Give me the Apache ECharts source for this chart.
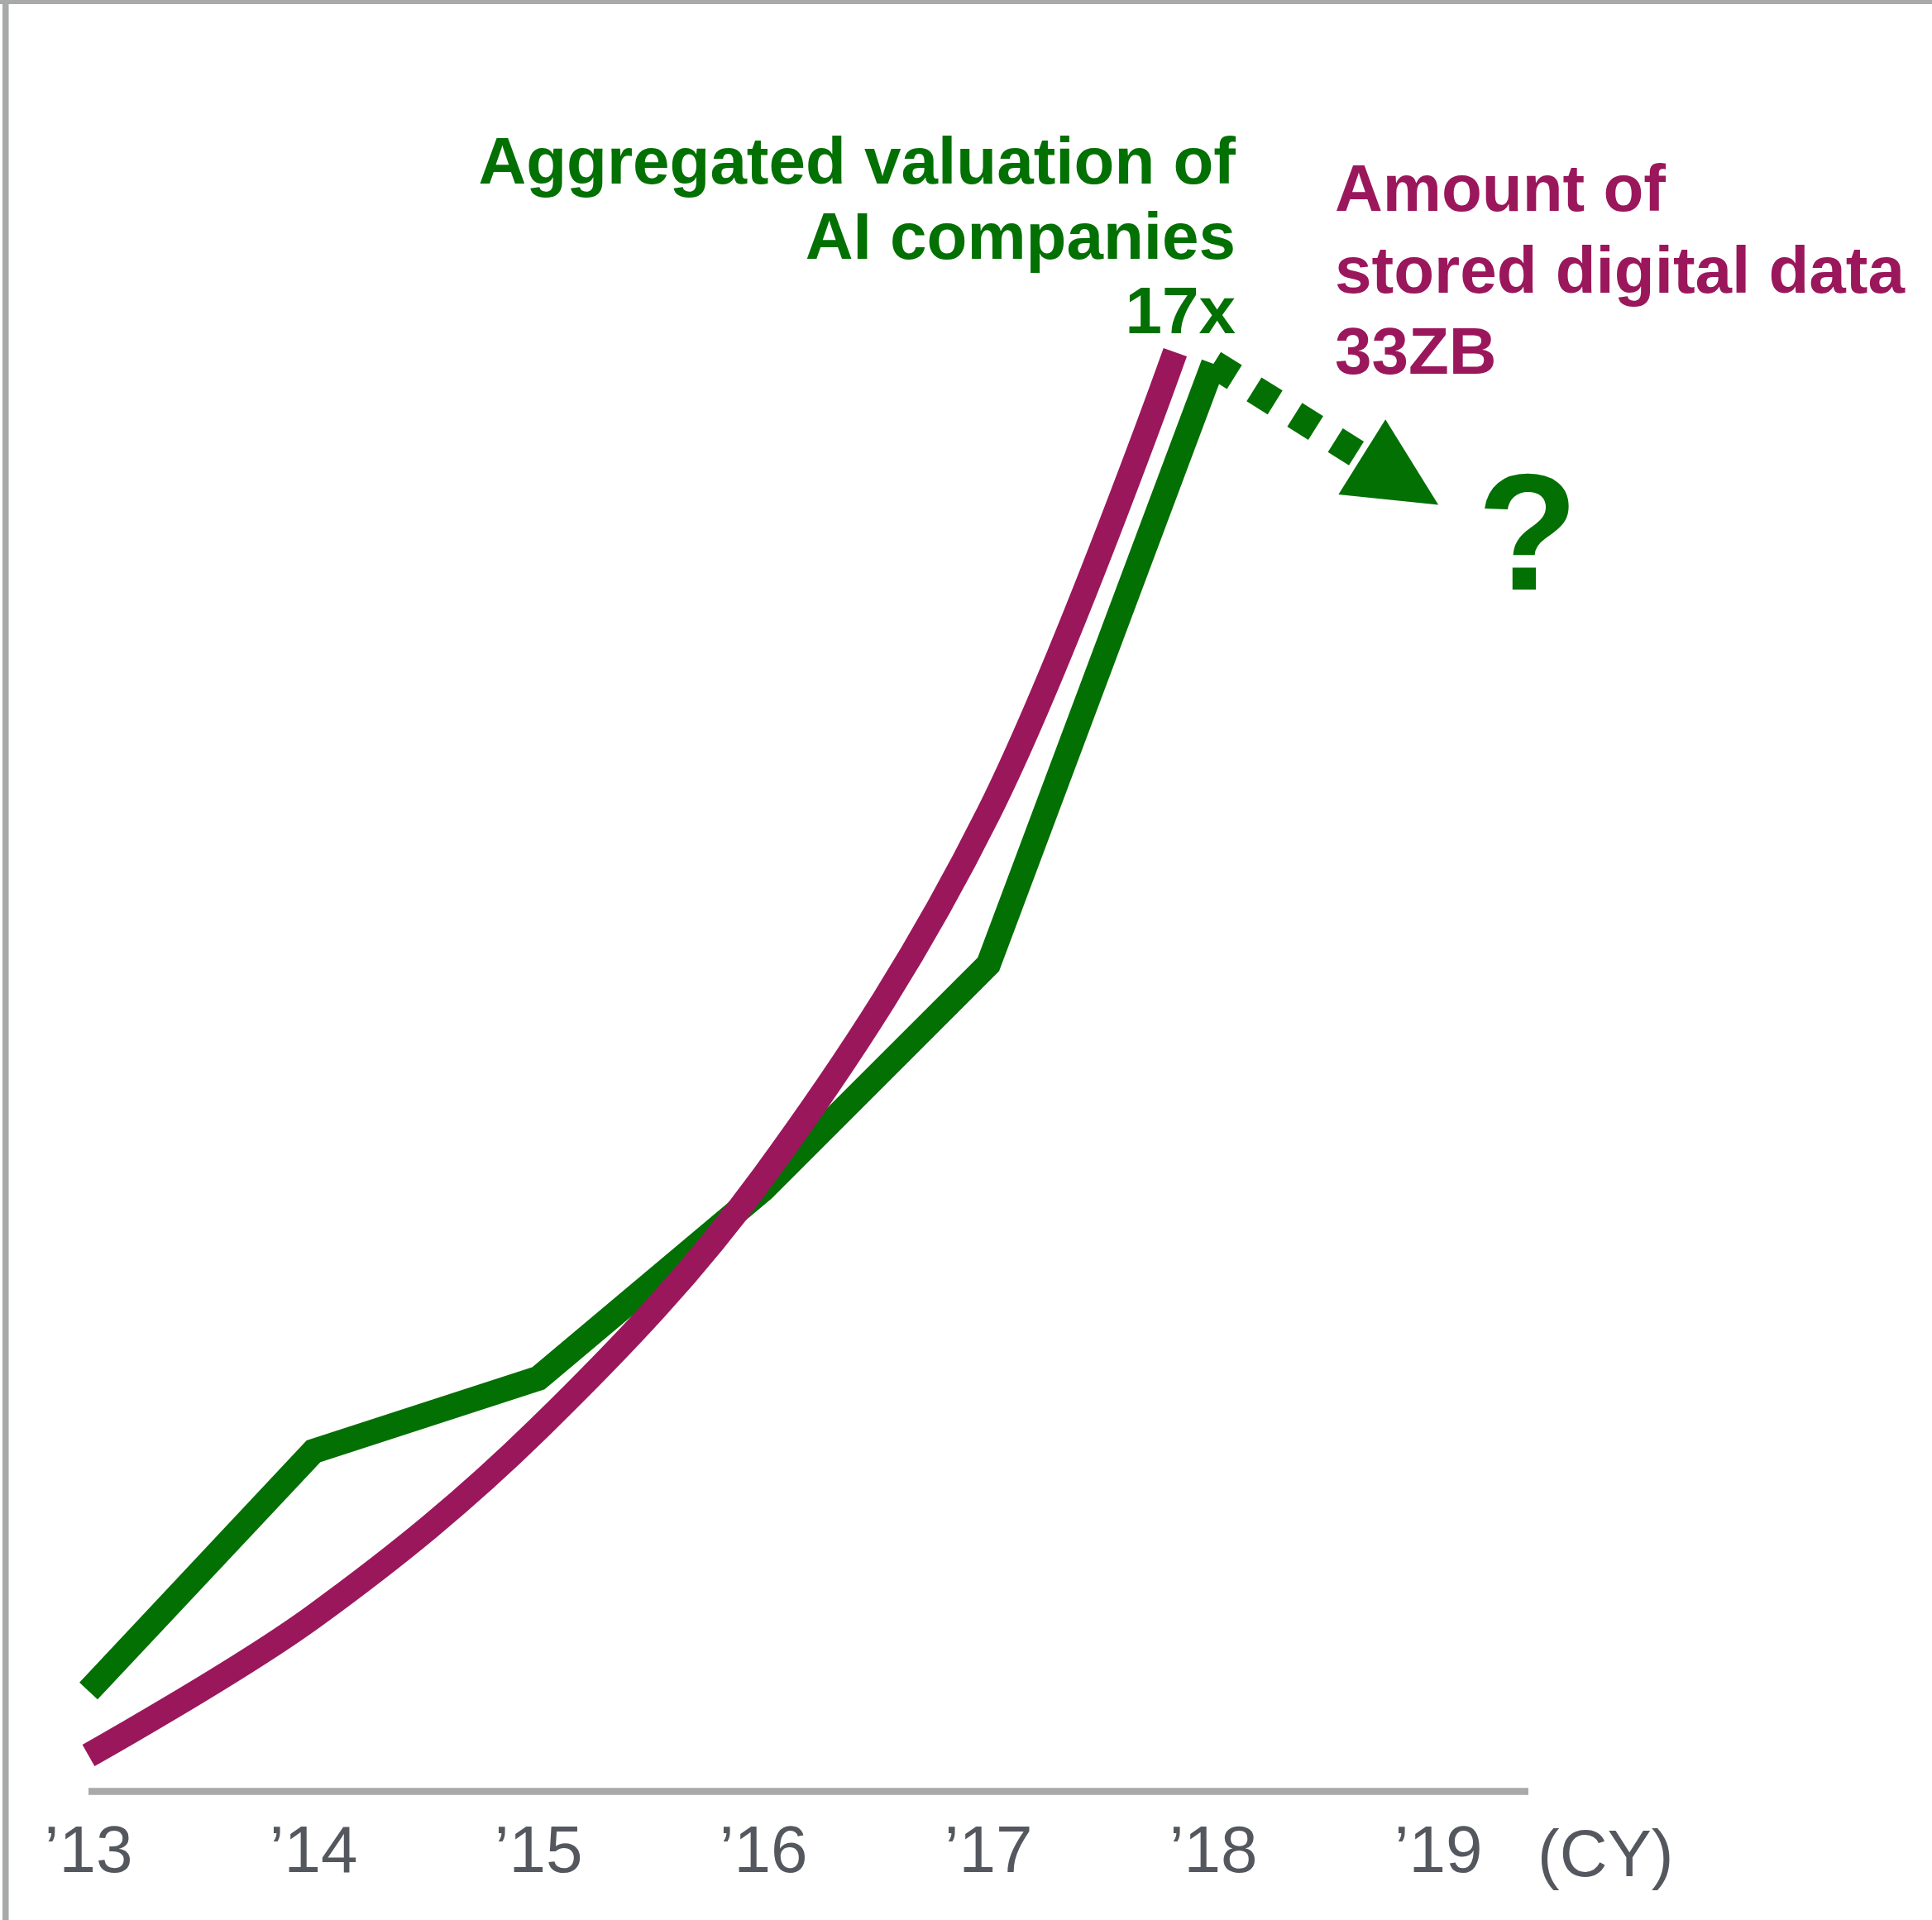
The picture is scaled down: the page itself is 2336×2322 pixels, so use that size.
<!DOCTYPE html>
<html>
<head>
<meta charset="utf-8">
<script src="https://cdn.jsdelivr.net/npm/echarts@6/dist/echarts.min.js"></script>
<style>
  html, body { margin: 0; padding: 0; background: #ffffff; overflow: hidden; }
  #chart { width: 2336px; height: 2322px; }
</style>
</head>
<body>
<div id="chart"></div>
<script>
// Calendar years on the x axis and their short labels
const years = [2013, 2014, 2015, 2016, 2017, 2018, 2019];
const yearLabels = ['’13', '’14', '’15', '’16', '’17', '’18', '’19'];
const axisUnit = '(CY)';

// Aggregated valuation of AI companies (multiple of the 2013 level)
const valuationYears = [2013, 2014, 2015, 2016, 2017, 2018];
const valuationMultiple = [1, 3.89, 4.77, 7.05, 9.76, 17];

// Amount of stored digital data (ZB)
const dataYears = [2013, 2014, 2015, 2016, 2017, 2017.83];
const storedZB = [4.4, 7.23, 11.06, 16.2, 23.6, 33];

// Where the dotted "what next?" arrow ends
const outlookYear = 2018.83;
const outlookMultiple = 15.59;

const GREEN = '#037003';
const PURPLE = '#9b175c';
const AXIS_GRAY = '#a7aaa9';
const LABEL_GRAY = '#54585e';
const SANS = "'Liberation Sans', Arial, sans-serif";

const zip = (xs, ys) => xs.map((x, i) => [x, ys[i]]);
const lastVal = a => a[a.length - 1];

const chart = echarts.init(document.getElementById('chart'), null, { renderer: 'canvas' });

chart.setOption({
  animation: false,
  backgroundColor: '#ffffff',
  grid: { left: 107, right: 488, top: 166, bottom: 156, containLabel: false },
  xAxis: {
    type: 'value',
    min: 2013,
    max: 2019.4,
    interval: 1,
    axisLine: { show: true, onZero: false, lineStyle: { color: AXIS_GRAY, width: 8.5, cap: 'butt' } },
    axisTick: { show: false },
    splitLine: { show: false },
    axisLabel: {
      margin: 36,
      fontSize: 80,
      color: LABEL_GRAY,
      fontFamily: SANS,
      formatter: v => {
        const i = years.indexOf(v);
        return i >= 0 ? yearLabels[i] : '';
      }
    }
  },
  yAxis: [
    { type: 'value', min: -0.206, max: 19.732, show: false, splitLine: { show: false } },
    { type: 'value', min: 3.675, max: 37.381, show: false, splitLine: { show: false } }
  ],
  series: [
    {
      name: 'Aggregated valuation of AI companies',
      type: 'line',
      yAxisIndex: 0,
      data: zip(valuationYears, valuationMultiple),
      showSymbol: false,
      symbol: 'none',
      lineStyle: { color: GREEN, width: 30, cap: 'butt', join: 'miter' },
      z: 2,
      markLine: {
        silent: true,
        symbol: ['none', 'triangle'],
        symbolSize: [107, 109],
        label: { show: false },
        lineStyle: { color: GREEN, width: 34, type: [30, 28], cap: 'butt', opacity: 1 },
        itemStyle: { color: GREEN },
        emphasis: { disabled: true },
        data: [[
          { coord: [lastVal(valuationYears), lastVal(valuationMultiple)] },
          { coord: [outlookYear, outlookMultiple] }
        ]]
      }
    },
    {
      name: 'Amount of stored digital data',
      type: 'line',
      yAxisIndex: 1,
      data: zip(dataYears, storedZB),
      smooth: 0.35,
      showSymbol: false,
      symbol: 'none',
      lineStyle: { color: PURPLE, width: 30, cap: 'butt' },
      z: 3
    }
  ],
  graphic: [
    // frame edges
    { type: 'rect', left: 3, top: 0, shape: { width: 7.5, height: 2322 }, style: { fill: AXIS_GRAY }, silent: true },
    { type: 'rect', left: 0, top: 0, shape: { width: 2336, height: 5 }, style: { fill: AXIS_GRAY }, silent: true },
    {
      type: 'text',
      silent: true,
      style: {
        x: 1859, y: 2247,
        text: axisUnit,
        font: '80px ' + SANS,
        fill: LABEL_GRAY,
        align: 'left',
        verticalAlign: 'middle'
      }
    },
    {
      type: 'text',
      silent: true,
      style: {
        x: 1494, y: 155,
        text: 'Aggregated valuation of\nAI companies\n' + lastVal(valuationMultiple) + 'x',
        font: 'bold 80px ' + SANS,
        lineHeight: 90.5,
        fill: GREEN,
        align: 'right',
        verticalAlign: 'top'
      }
    },
    {
      type: 'text',
      silent: true,
      style: {
        x: 1614, y: 184,
        text: 'Amount of\nstored digital data\n' + lastVal(storedZB) + 'ZB',
        font: 'bold 80px ' + SANS,
        lineHeight: 98.5,
        fill: PURPLE,
        align: 'left',
        verticalAlign: 'top'
      }
    },
    {
      type: 'text',
      silent: true,
      style: {
        x: 1847, y: 658,
        text: '?',
        font: 'bold 200px ' + SANS,
        fill: GREEN,
        align: 'center',
        verticalAlign: 'middle'
      }
    }
  ]
});
</script>
</body>
</html>
